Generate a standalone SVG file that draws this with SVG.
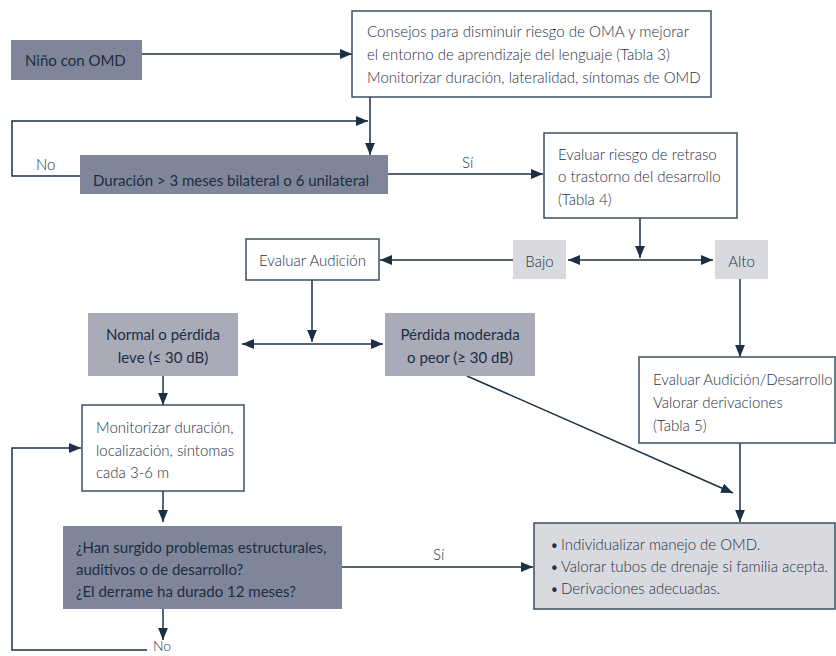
<svg xmlns="http://www.w3.org/2000/svg" width="836" height="656" viewBox="0 0 836 656">
<style>
.t{font-family:Lato,"Liberation Sans",sans-serif;font-size:15px;font-weight:300;fill:#1f3247}
.b{font-family:Lato,"Liberation Sans",sans-serif;font-size:15px;font-weight:400;fill:#1b2d42}
.dark{fill:#80869a}
.mid{fill:#a9abb9}
.light{fill:#d9dadf;stroke:#3a4f62;stroke-width:1.5}
.lightn{fill:#d9dadf}
.white{fill:#ffffff;stroke:#3a4f62;stroke-width:1.5}
.c{fill:none;stroke:#1b3045;stroke-width:1.5}
</style>
<defs>
<marker id="ah" viewBox="0 0 11 9" refX="11" refY="4.5" markerWidth="12" markerHeight="10" markerUnits="userSpaceOnUse" orient="auto-start-reverse">
<path d="M0,0 L11,4.5 L0,9 Z" fill="#1b3045"/>
</marker>
</defs>
<rect width="836" height="656" fill="#ffffff"/>
<g id="connectors">
<path class="c" d="M142,54 H352" marker-end="url(#ah)"/>
<path class="c" d="M370,97 V155" marker-end="url(#ah)"/>
<path class="c" d="M80,176 H12 V121 H368" marker-end="url(#ah)"/>
<path class="c" d="M388,174 H543" marker-end="url(#ah)"/>
<path class="c" d="M640,218 V258" marker-end="url(#ah)"/>
<path class="c" d="M568,260 H713" marker-start="url(#ah)" marker-end="url(#ah)"/>
<path class="c" d="M513,260 H380" marker-end="url(#ah)"/>
<path class="c" d="M740,279 V357" marker-end="url(#ah)"/>
<path class="c" d="M312,280 V342" marker-end="url(#ah)"/>
<path class="c" d="M242,344 H383" marker-start="url(#ah)" marker-end="url(#ah)"/>
<path class="c" d="M163,376 V405" marker-end="url(#ah)"/>
<path class="c" d="M467,376 L733,493" marker-end="url(#ah)"/>
<path class="c" d="M740,443 V522" marker-end="url(#ah)"/>
<path class="c" d="M163,491 V522" marker-end="url(#ah)"/>
<path class="c" d="M342,567 H533" marker-end="url(#ah)"/>
<path class="c" d="M163,609 V640" marker-end="url(#ah)"/>
<path class="c" d="M147,650 H12 V448 H81" marker-end="url(#ah)"/>
<text class="t" x="36" y="170">No</text>
<text class="t" x="462" y="168">Sí</text>
<text class="t" x="433" y="560">Sí</text>
<text class="t" x="153" y="651" style="font-size:14px">No</text>
</g>
<g id="n-nino">
<rect class="dark" x="11" y="40" width="131" height="40"/>
<text class="b" x="25" y="66">Niño con OMD</text>
</g>
<g id="n-consejos">
<rect class="white" x="352" y="11" width="359" height="86"/>
<text class="t" x="367" y="37" textLength="322" lengthAdjust="spacingAndGlyphs">Consejos para disminuir riesgo de OMA y mejorar</text>
<text class="t" x="367" y="60">el entorno de aprendizaje del lenguaje (Tabla 3)</text>
<text class="t" x="367" y="83">Monitorizar duración, lateralidad, síntomas de OMD</text>
</g>
<g id="n-duracion">
<rect class="dark" x="80" y="155" width="308" height="39"/>
<text class="b" x="93" y="186">Duración &gt; 3 meses bilateral o 6 unilateral</text>
</g>
<g id="n-riesgo">
<rect class="white" x="544" y="133" width="193" height="85"/>
<text class="t" x="558" y="160">Evaluar riesgo de retraso</text>
<text class="t" x="558" y="182">o trastorno del desarrollo</text>
<text class="t" x="558" y="205">(Tabla 4)</text>
</g>
<g id="n-audicion">
<rect class="white" x="246" y="239" width="133" height="41"/>
<text class="t" x="312.5" y="266" text-anchor="middle">Evaluar Audición</text>
</g>
<g id="n-bajo">
<rect class="lightn" x="513" y="240" width="53" height="39"/>
<text class="t" x="539.5" y="267" text-anchor="middle">Bajo</text>
</g>
<g id="n-alto">
<rect class="lightn" x="715" y="240" width="53" height="39"/>
<text class="t" x="741.5" y="267" text-anchor="middle">Alto</text>
</g>
<g id="n-normal">
<rect class="mid" x="88" y="313" width="150" height="63"/>
<text class="b" x="163" y="340" text-anchor="middle">Normal o pérdida</text>
<text class="b" x="163" y="363" text-anchor="middle">leve (≤ 30 dB)</text>
</g>
<g id="n-perdida">
<rect class="mid" x="385" y="313" width="150" height="63"/>
<text class="b" x="460" y="340" text-anchor="middle">Pérdida moderada</text>
<text class="b" x="460" y="363" text-anchor="middle">o peor (≥ 30 dB)</text>
</g>
<g id="n-desarrollo">
<rect class="white" x="639" y="357" width="196" height="86"/>
<text class="t" x="653" y="385">Evaluar Audición/Desarrollo</text>
<text class="t" x="653" y="408">Valorar derivaciones</text>
<text class="t" x="653" y="431">(Tabla 5)</text>
</g>
<g id="n-monitorizar">
<rect class="white" x="82" y="405" width="162" height="86"/>
<text class="t" x="96" y="433">Monitorizar duración,</text>
<text class="t" x="96" y="456">localización, síntomas</text>
<text class="t" x="96" y="478">cada 3-6 m</text>
</g>
<g id="n-problemas">
<rect class="dark" x="63" y="526" width="279" height="83"/>
<text class="b" x="76" y="553">¿Han surgido problemas estructurales,</text>
<text class="b" x="76" y="575">auditivos o de desarrollo?</text>
<text class="b" x="76" y="597">¿El derrame ha durado 12 meses?</text>
</g>
<g id="n-individualizar">
<rect class="light" x="534" y="523" width="301" height="86"/>
<text class="t" x="550" y="550">•</text>
<text class="t" x="561" y="550">Individualizar manejo de OMD.</text>
<text class="t" x="550" y="572">•</text>
<text class="t" x="561" y="572">Valorar tubos de drenaje si familia acepta.</text>
<text class="t" x="550" y="594">•</text>
<text class="t" x="561" y="594">Derivaciones adecuadas.</text>
</g>
</svg>
